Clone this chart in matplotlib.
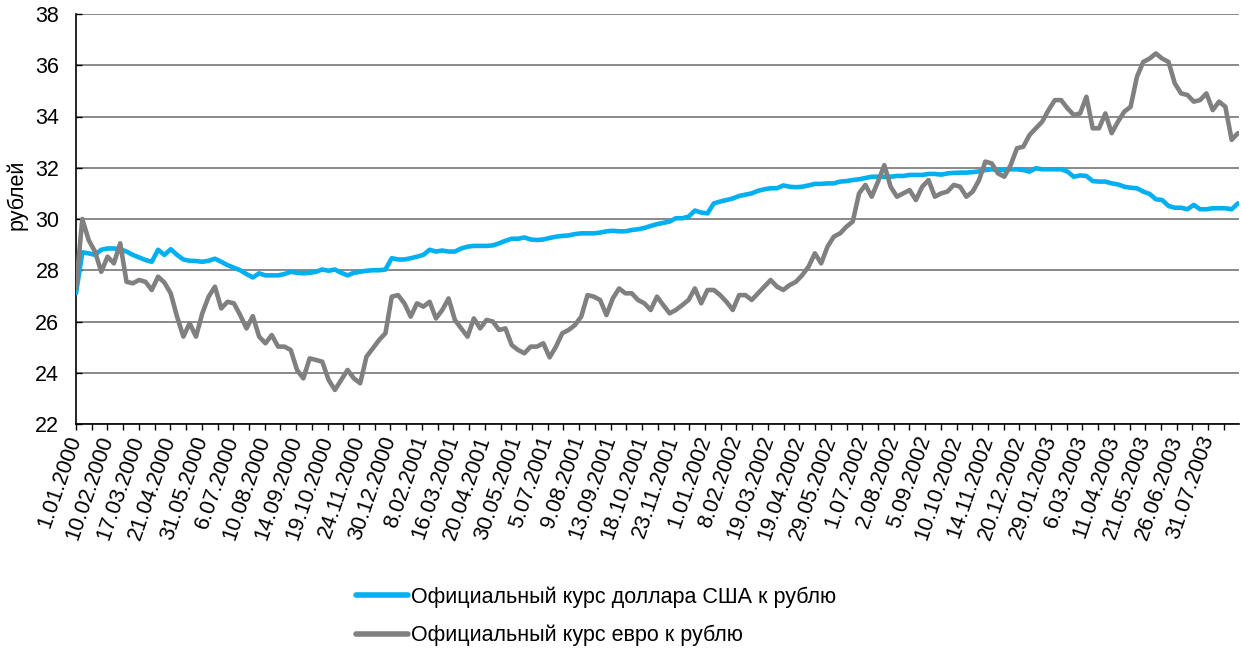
import matplotlib
matplotlib.use('Agg')
import matplotlib.pyplot as plt
import numpy as np
from matplotlib.ticker import FixedLocator, NullFormatter

plt.rcParams['font.family'] = ['Liberation Sans', 'DejaVu Sans']

# tick labels (one every 25 trading days)
date_labels = [
    "1.01.2000", "10.02.2000", "17.03.2000", "21.04.2000", "31.05.2000",
    "6.07.2000", "10.08.2000", "14.09.2000", "19.10.2000", "24.11.2000",
    "30.12.2000", "8.02.2001", "16.03.2001", "20.04.2001", "30.05.2001",
    "5.07.2001", "9.08.2001", "13.09.2001", "18.10.2001", "23.11.2001",
    "1.01.2002", "8.02.2002", "19.03.2002", "19.04.2002", "29.05.2002",
    "1.07.2002", "2.08.2002", "5.09.2002", "10.10.2002", "14.11.2002",
    "20.12.2002", "29.01.2003", "6.03.2003", "11.04.2003", "21.05.2003",
    "26.06.2003", "31.07.2003",
]

# official USD/RUB rate, read every ~5 trading days
usd = [
    27.1, 28.7, 28.66, 28.6, 28.8, 28.85, 28.85, 28.82, 28.73, 28.6,
    28.5, 28.4, 28.33, 28.8, 28.6, 28.82, 28.6, 28.42, 28.37, 28.36,
    28.33, 28.37, 28.45, 28.33, 28.2, 28.1, 28.0, 27.85, 27.72, 27.88,
    27.8, 27.8, 27.8, 27.85, 27.94, 27.9, 27.88, 27.9, 27.94, 28.03,
    27.98, 28.03, 27.9, 27.8, 27.9, 27.94, 27.98, 28.0, 28.0, 28.03,
    28.47, 28.42, 28.42, 28.47, 28.53, 28.6, 28.8, 28.73, 28.77, 28.73,
    28.73, 28.85, 28.92, 28.95, 28.95, 28.95, 28.97, 29.05, 29.15, 29.23,
    29.23, 29.28, 29.2, 29.18, 29.2, 29.26, 29.31, 29.34, 29.36, 29.41,
    29.44, 29.44, 29.44, 29.47, 29.52, 29.54, 29.52, 29.52, 29.57, 29.6,
    29.65, 29.73, 29.8, 29.85, 29.9, 30.03, 30.03, 30.09, 30.33, 30.25,
    30.22, 30.61, 30.68, 30.74, 30.8, 30.9, 30.95, 31.0, 31.1, 31.16,
    31.2, 31.2, 31.31, 31.26, 31.24, 31.26, 31.31, 31.37, 31.37, 31.39,
    31.39, 31.46, 31.48, 31.52, 31.55, 31.6, 31.65, 31.65, 31.65, 31.65,
    31.68, 31.68, 31.72, 31.72, 31.72, 31.76, 31.76, 31.73, 31.78, 31.8,
    31.81, 31.81, 31.83, 31.86, 31.91, 31.94, 31.91, 31.91, 31.94, 31.94,
    31.91, 31.85, 31.98, 31.94, 31.94, 31.94, 31.94, 31.85, 31.65, 31.7,
    31.68, 31.48, 31.46, 31.46, 31.39, 31.35, 31.26, 31.22, 31.2, 31.07,
    30.98, 30.77, 30.74, 30.51, 30.44, 30.44, 30.38, 30.55, 30.38, 30.38,
    30.42, 30.42, 30.42, 30.38, 30.61,
]

# official EUR/RUB rate, read every ~5 trading days
eur = [
    27.3, 30.0, 29.18, 28.73, 27.94, 28.53, 28.27, 29.05, 27.55, 27.49,
    27.62, 27.55, 27.23, 27.75, 27.52, 27.1, 26.19, 25.41, 25.93, 25.41,
    26.32, 26.97, 27.36, 26.51, 26.77, 26.71, 26.25, 25.73, 26.21, 25.41,
    25.15, 25.47, 25.02, 25.02, 24.89, 24.11, 23.78, 24.56, 24.5, 24.43,
    23.72, 23.33, 23.72, 24.11, 23.78, 23.59, 24.63, 24.95, 25.28, 25.54,
    26.97, 27.03, 26.71, 26.19, 26.71, 26.58, 26.77, 26.12, 26.45, 26.9,
    26.06, 25.73, 25.41, 26.12, 25.73, 26.06, 26.0, 25.67, 25.73, 25.08,
    24.89, 24.76, 25.02, 25.02, 25.15, 24.6, 25.02, 25.54, 25.67, 25.86,
    26.19, 27.03, 26.97, 26.84, 26.25, 26.9, 27.29, 27.1, 27.1, 26.84,
    26.71, 26.45, 26.97, 26.64, 26.32, 26.45, 26.64, 26.84, 27.29, 26.71,
    27.23, 27.23, 27.03, 26.77, 26.45, 27.03, 27.03, 26.84, 27.1, 27.36,
    27.62, 27.36, 27.23, 27.42, 27.55, 27.81, 28.14, 28.66, 28.27, 28.92,
    29.31, 29.44, 29.7, 29.9, 31.0, 31.33, 30.87, 31.46, 32.1, 31.26,
    30.87, 31.0, 31.13, 30.74, 31.26, 31.52, 30.87, 31.0, 31.07, 31.33,
    31.26, 30.87, 31.07, 31.52, 32.24, 32.17, 31.78, 31.65, 32.1, 32.76,
    32.82, 33.28, 33.54, 33.8, 34.25, 34.64, 34.64, 34.32, 34.06, 34.12,
    34.77, 33.54, 33.54, 34.12, 33.35, 33.8, 34.19, 34.38, 35.55, 36.13,
    36.26, 36.46, 36.26, 36.13, 35.29, 34.9, 34.84, 34.58, 34.64, 34.9,
    34.25, 34.58, 34.38, 33.09, 33.35,
]

series_names = ["Официальный курс доллара США к рублю",
                "Официальный курс евро к рублю"]
y_label = "рублей"
y_ticks = [22, 24, 26, 28, 30, 32, 34, 36, 38]

LABEL_EVERY = 25      # trading days between date labels
SAMPLE_STEP = 5.02    # trading days between the read samples
x = np.arange(len(usd)) * SAMPLE_STEP

FS = 15.5
W, H = 1241, 651
fig = plt.figure(figsize=(W / 100, H / 100), dpi=100)
ax = fig.add_axes([76 / W, 1 - 424 / H, (1239 - 76) / W, 410 / H])

l1, = ax.plot(x, usd, color='#00B0F0', lw=3.3, solid_joinstyle='round',
              solid_capstyle='round', zorder=3)
l2, = ax.plot(x, eur, color='#808080', lw=3.3, solid_joinstyle='round',
              solid_capstyle='round', zorder=4)

ax.set_xlim(0, 924.5)
ax.set_ylim(y_ticks[0], y_ticks[-1])
ax.set_yticks(y_ticks)
ax.yaxis.grid(True, color='#808080', lw=1.3)
ax.set_axisbelow(True)
for s in ['top', 'right']:
    ax.spines[s].set_visible(False)
for s in ['left', 'bottom']:
    ax.spines[s].set_color('black')
    ax.spines[s].set_linewidth(1.2)

major = np.arange(len(date_labels)) * LABEL_EVERY
minor = major + LABEL_EVERY / 2
ax.xaxis.set_major_locator(FixedLocator(major))
ax.xaxis.set_minor_locator(FixedLocator(minor))
ax.xaxis.set_minor_formatter(NullFormatter())
ax.set_xticklabels(date_labels, rotation=71, rotation_mode='anchor',
                   ha='right', va='center', fontsize=FS)
ax.tick_params(axis='x', which='both', direction='out', length=4, width=1,
               color='black', pad=5)
ax.tick_params(axis='y', direction='in', length=4, width=1, labelsize=FS,
               pad=12)

ax.set_ylabel(y_label, fontsize=FS)
ax.yaxis.set_label_coords(-0.042, 0.56)

fig.legend([l1, l2], series_names, loc='upper left',
           bbox_to_anchor=(356 / W, 1 - 586 / H), frameon=False,
           fontsize=FS, handlelength=2.42, handletextpad=0.14,
           labelspacing=0.8, borderpad=0, borderaxespad=0)
for line in fig.legends[0].get_lines():
    line.set_linewidth(4.0)

fig.savefig('out.png', dpi=100)
